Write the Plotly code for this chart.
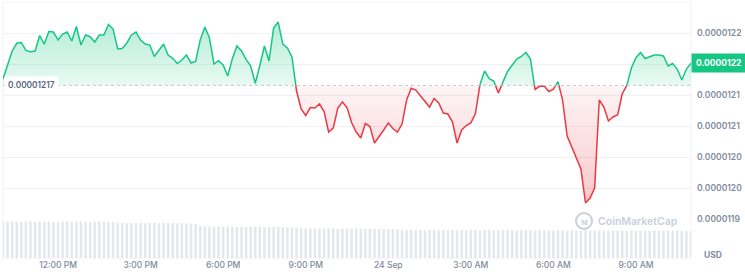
import plotly.graph_objects as go
import pandas as pd

# ---------------- data ----------------
start_time = "2024-09-23 10:00"
interval_minutes = 10

# price in units of 1e-8 USD, one value every 10 minutes
price_e8 = [
    1217.63, 1219.73, 1222.15, 1223.39, 1223.52, 1222.23, 1222.02, 1222.15, 1224.65, 1223.27,
    1225.29, 1225.21, 1223.92, 1224.89, 1225.21, 1223.76, 1226.10, 1223.11, 1224.73, 1224.45,
    1223.60, 1224.73, 1224.73, 1226.42, 1225.69, 1222.47, 1222.55, 1223.44, 1224.73, 1225.21,
    1223.92, 1223.27, 1223.11, 1221.26, 1222.23, 1223.27, 1221.50, 1220.97, 1220.13, 1220.69,
    1221.50, 1220.21, 1220.45, 1223.92, 1226.02, 1224.29, 1220.05, 1220.58, 1219.89, 1218.11,
    1220.89, 1222.95, 1222.15, 1220.79, 1219.73, 1216.94, 1219.81, 1222.95, 1220.53, 1225.85,
    1226.82, 1223.27, 1222.63, 1221.18, 1215.69, 1212.79, 1211.74, 1213.03, 1212.95, 1213.60,
    1212.39, 1209.08, 1209.73, 1212.95, 1213.92, 1213.03, 1210.61, 1209.08, 1208.11, 1210.45,
    1209.97, 1207.31, 1208.27, 1209.40, 1210.53, 1209.65, 1209.08, 1210.37, 1214.24, 1216.13,
    1215.85, 1214.97, 1214.08, 1213.11, 1214.50, 1213.76, 1212.15, 1211.98, 1210.69, 1207.31,
    1209.40, 1210.13, 1210.53, 1212.06, 1216.74, 1218.92, 1217.69, 1217.31, 1215.37, 1217.15,
    1218.85, 1219.84, 1220.85, 1221.26, 1221.94, 1220.85, 1215.94, 1216.45, 1216.50, 1215.61,
    1216.00, 1217.20, 1214.24, 1208.44, 1206.66, 1204.89, 1203.11, 1197.63, 1198.44, 1200.05,
    1214.24, 1213.11, 1210.85, 1211.50, 1211.82, 1215.21, 1216.56, 1219.40, 1221.06, 1221.90,
    1220.94, 1221.23, 1221.50, 1221.50, 1221.34, 1219.73, 1220.13, 1219.24, 1217.47, 1219.24,
    1220.16,
]

# rolling volume (relative units), one bar every 10 minutes
volume = [
    36.4, 36.2, 36.5, 36.3, 36.1, 36.4, 36.3, 36.2, 36.5, 36.3, 36.4, 36.2, 36.1, 36.3, 36.4,
    36.2, 36.3, 36.5, 36.2, 36.1, 36.3, 36.4, 36.2, 36.0, 35.8,
    35.2, 35.0, 35.1, 34.9, 35.0, 35.2, 35.1, 34.9, 35.0, 34.8, 35.0, 35.1, 34.9, 34.7, 34.8,
    34.6, 34.5, 34.0,
    32.0, 31.6, 31.4, 31.5, 31.3, 31.2, 31.4, 31.3, 31.1, 31.2, 31.0, 31.3, 31.1, 31.2, 31.0,
    30.9, 31.1, 31.0, 30.8, 30.9, 30.6, 30.2,
    29.8, 29.6, 29.7, 29.5, 29.6, 29.4, 29.5, 29.6, 29.3, 29.4, 29.5, 29.2, 29.4, 29.3, 29.1,
    29.2, 29.3, 29.0, 29.1, 28.9, 28.8, 28.6,
    28.3, 28.1, 28.2, 28.0, 28.1, 27.9, 28.0, 28.2, 28.1, 27.9, 28.0, 28.1, 27.8, 28.0, 27.9,
    28.1, 28.0, 27.8, 27.9, 28.0, 27.7, 27.9, 28.0, 27.8, 27.9, 27.7, 27.8, 28.0, 27.9, 27.6,
    27.8, 27.7, 27.6,
    27.5, 27.7, 27.6, 27.4, 27.6, 27.5, 27.3, 27.6, 27.4, 27.5, 27.6, 27.3, 27.5, 27.4, 27.2,
    27.5, 27.3, 27.4, 27.2, 27.3, 27.5, 27.2, 27.4, 27.3, 27.1, 27.3, 27.2, 27.4, 27.1, 27.2,
    27.0,
]

ref_price_e8 = 1216.6           # 24h open reference
ref_label = "0.00001217"
last_price_label = "0.0000122"

x_tick_times = ["2024-09-23 12:00", "2024-09-23 15:00", "2024-09-23 18:00", "2024-09-23 21:00",
                "2024-09-24 00:00", "2024-09-24 03:00", "2024-09-24 06:00", "2024-09-24 09:00"]
x_tick_labels = ["12:00 PM", "3:00 PM", "6:00 PM", "9:00 PM", "24 Sep", "3:00 AM", "6:00 AM", "9:00 AM"]

y_tick_vals_e8 = [1195, 1200, 1205, 1210, 1215, 1220, 1225]
y_tick_labels = ["0.0000119", "0.0000120", "0.0000120", "0.0000121", "0.0000121", "0.0000122", "0.0000122"]

# ---------------- build ----------------
GREEN = "#16c784"
RED = "#ea3943"
GRID = "#eff2f5"
TXT = "#808a9d"
WM = "#c9cfdb"
FONT = "Inter"

times = list(pd.date_range(start_time, periods=len(price_e8), freq=f"{interval_minutes}min"))
prices = [p * 1e-8 for p in price_e8]
ref = ref_price_e8 * 1e-8

# insert crossing points so colours switch exactly on the reference line
ts, vs = [], []
for i in range(len(prices)):
    if i > 0:
        a, b = prices[i - 1], prices[i]
        if (a - ref) * (b - ref) < 0:
            frac = (ref - a) / (b - a)
            ts.append(times[i - 1] + (times[i] - times[i - 1]) * frac)
            vs.append(ref)
    ts.append(times[i])
    vs.append(prices[i])

up_line = [v if v >= ref else None for v in vs]
dn_line = [v if v <= ref else None for v in vs]
up_fill = [max(v, ref) for v in vs]
dn_fill = [min(v, ref) for v in vs]
base = [ref] * len(vs)

fig = go.Figure()
fig.add_trace(go.Scatter(x=ts, y=base, mode="lines", line=dict(width=0), hoverinfo="skip"))
fig.add_trace(go.Scatter(
    x=ts, y=up_fill, mode="lines", line=dict(width=0), fill="tonexty", hoverinfo="skip",
    fillgradient=dict(type="vertical", start=ref, stop=max(prices),
                      colorscale=[[0, "rgba(22,199,132,0.10)"], [1, "rgba(22,199,132,0.32)"]])))
fig.add_trace(go.Scatter(x=ts, y=base, mode="lines", line=dict(width=0), hoverinfo="skip"))
fig.add_trace(go.Scatter(
    x=ts, y=dn_fill, mode="lines", line=dict(width=0), fill="tonexty", hoverinfo="skip",
    fillgradient=dict(type="vertical", start=min(prices), stop=ref,
                      colorscale=[[0, "rgba(234,57,67,0.28)"], [1, "rgba(234,57,67,0.05)"]])))
fig.add_trace(go.Scatter(x=ts, y=up_line, mode="lines", line=dict(color=GREEN, width=1.5),
                         connectgaps=False))
fig.add_trace(go.Scatter(x=ts, y=dn_line, mode="lines", line=dict(color=RED, width=1.5),
                         connectgaps=False))
fig.add_trace(go.Bar(x=times, y=volume, yaxis="y2", marker=dict(color="#e4e7ec", line=dict(width=0))))

# plot area: x 3..691 px, y 2..258 px
fig.update_layout(
    width=745, height=277,
    margin=dict(l=3, r=54, t=2, b=19),
    paper_bgcolor="white", plot_bgcolor="white",
    showlegend=False, bargap=0.45,
    font=dict(family=FONT, color=TXT, size=9),
    xaxis=dict(type="date", range=[times[0], times[-1]], showgrid=False, zeroline=False,
               tickvals=x_tick_times, ticktext=x_tick_labels, ticks="", automargin=False,
               tickfont=dict(family=FONT, size=8.5, color=TXT, weight=500), showline=False),
    yaxis=dict(range=[1188.76e-8, 1230.05e-8], side="right", domain=[0, 1],
               tickvals=[v * 1e-8 for v in y_tick_vals_e8], ticktext=y_tick_labels,
               showgrid=True, gridcolor=GRID, gridwidth=1, zeroline=False, ticks="",
               ticklabelstandoff=5, automargin=False,
               tickfont=dict(family=FONT, size=8.5, color=TXT, weight=600)),
    yaxis2=dict(domain=[0, 40 / 256], range=[0, 40], visible=False, anchor="x"),
)

# frame
fig.add_shape(type="rect", xref="paper", yref="paper", x0=0, x1=1, y0=0, y1=1,
              line=dict(color=GRID, width=1), layer="below")
# reference dotted line
fig.add_shape(type="line", xref="paper", yref="y", x0=0, x1=1, y0=ref, y1=ref,
              line=dict(color="#c3c8d1", width=1, dash="dot"), layer="above")

# reference label
fig.add_annotation(xref="paper", yref="y", x=0, y=ref, xanchor="left", yanchor="middle",
                   text=ref_label, showarrow=False, bgcolor="white", borderpad=3, xshift=1,
                   font=dict(family=FONT, size=8.3, color="#58667e", weight=600))
# last price badge
fig.add_annotation(xref="paper", yref="y", x=1, y=prices[-1], xanchor="left", yanchor="middle",
                   text=last_price_label, showarrow=False, bgcolor=GREEN, borderpad=4,
                   font=dict(family=FONT, size=8.5, color="white", weight=700))
# currency label
fig.add_annotation(xref="paper", yref="paper", x=1, y=0, xanchor="left", yanchor="middle",
                   xshift=11, yshift=3, text="USD", showarrow=False,
                   font=dict(family=FONT, size=8.5, color=TXT, weight=700))
# watermark
fig.add_shape(type="circle", xref="paper", yref="paper",
              x0=(576 - 3) / 688, x1=(592 - 3) / 688, y0=(258 - 229) / 256, y1=(258 - 213) / 256,
              line=dict(color=WM, width=2), layer="above")
fig.add_annotation(xref="paper", yref="paper", x=(584 - 3) / 688, y=(258 - 221) / 256,
                   xanchor="center", yanchor="middle", text="ᴍ", showarrow=False,
                   font=dict(family=FONT, size=10, color=WM, weight=700))
fig.add_annotation(xref="paper", yref="paper", x=(596 - 3) / 688, y=(258 - 221) / 256,
                   xanchor="left", yanchor="middle", text="CoinMarketCap", showarrow=False,
                   font=dict(family=FONT, size=10.5, color=WM, weight=600))

fig.write_html("out.html")
